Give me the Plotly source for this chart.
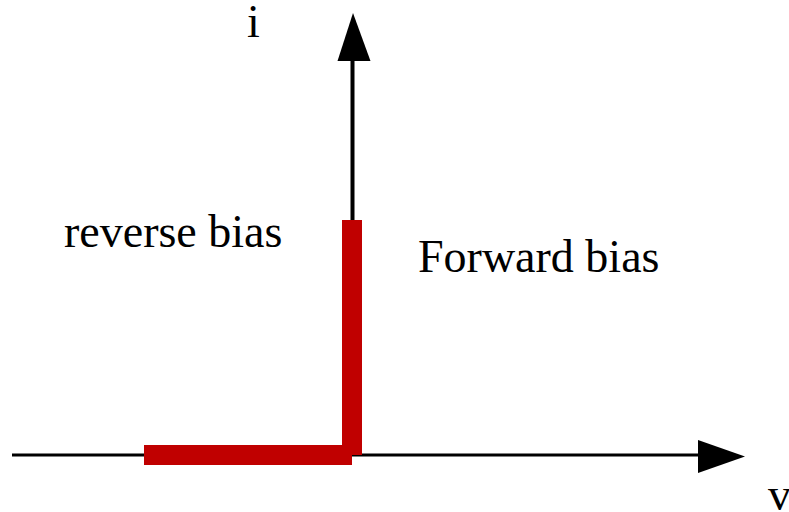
import plotly.graph_objects as go

# ---- data (v, i in drawing units; origin at the axes crossing) ----
reverse_v = [-208, 0]
reverse_i = [0, 0]
forward_v = [0, 0]
forward_i = [0, 235]

label_text = ["reverse bias", "Forward bias", "i", "v"]
label_v = [-179.5, 186.5, -99, 427]
label_i = [223.5, 198.5, 433.5, -39.5]

# ---- styles ----
RED = "#c00000"
FONT = dict(family="Liberation Serif, Times New Roman, serif", size=46, color="black")
X_RANGE = [-352, 437]
Y_RANGE = [-57, 455]

fig = go.Figure()
fig.add_trace(go.Scatter(x=reverse_v, y=reverse_i, mode="lines",
                         line=dict(color=RED, width=20), hoverinfo="skip"))
fig.add_trace(go.Scatter(x=forward_v, y=forward_i, mode="lines",
                         line=dict(color=RED, width=20), hoverinfo="skip"))

shapes = [
    # horizontal (v) axis
    dict(type="line", x0=-340, x1=360, y0=0, y1=0, xref="x", yref="y",
         line=dict(color="black", width=3), layer="below"),
    # vertical (i) axis
    dict(type="line", x0=0.5, x1=0.5, y0=0, y1=400, xref="x", yref="y",
         line=dict(color="black", width=4), layer="below"),
    # arrowheads
    dict(type="path", path="M 346 15 L 393 -1.5 L 346 -18 Z", xref="x", yref="y",
         fillcolor="black", line=dict(color="black", width=0)),
    dict(type="path", path="M -14.5 394 L 1 442 L 18.5 394 Z", xref="x", yref="y",
         fillcolor="black", line=dict(color="black", width=0)),
]

annotations = [
    dict(x=vx, y=iy, text=t, showarrow=False, xref="x", yref="y",
         xanchor="center", yanchor="middle", font=FONT)
    for t, vx, iy in zip(label_text, label_v, label_i)
]

fig.update_layout(
    width=789, height=512, autosize=False,
    margin=dict(l=0, r=0, t=0, b=0),
    paper_bgcolor="white", plot_bgcolor="white",
    showlegend=False,
    xaxis=dict(range=X_RANGE, visible=False, fixedrange=True),
    yaxis=dict(range=Y_RANGE, visible=False, fixedrange=True),
    shapes=shapes,
    annotations=annotations,
)

fig.write_html(
    "out.html",
    config={"displayModeBar": False},
    post_script="document.body.style.margin='0';document.body.style.overflow='hidden';",
)
